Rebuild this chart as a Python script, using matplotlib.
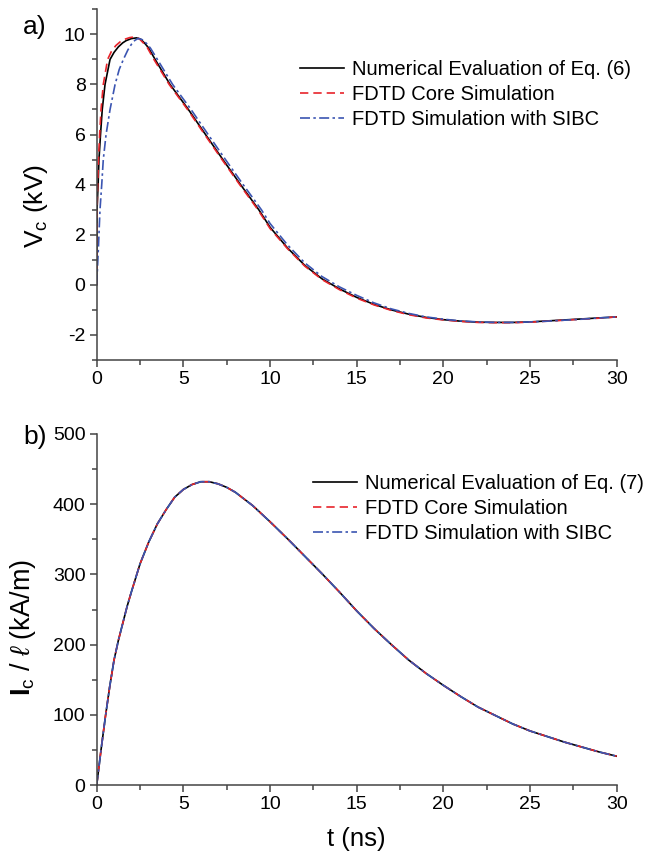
import matplotlib
matplotlib.use('Agg')
import matplotlib.pyplot as plt
from matplotlib.ticker import MultipleLocator

plt.rcParams['font.family'] = ['Liberation Sans', 'DejaVu Sans']
plt.rcParams['axes.unicode_minus'] = False
plt.rcParams['mathtext.fontset'] = 'custom'
plt.rcParams['mathtext.rm'] = 'Liberation Sans'
plt.rcParams['mathtext.bf'] = 'Liberation Sans:bold'
plt.rcParams['mathtext.it'] = 'Liberation Sans:italic'

# a) capacitor voltage (kV)
t_tail = [11, 12, 13, 14, 15, 16, 17, 18, 19, 20, 21, 22, 23, 24, 25, 26, 27, 28, 29, 30]

t_num = [0, 0.02, 0.08, 0.13, 0.22, 0.32, 0.48, 0.77, 1.0, 1.25, 1.5, 1.7, 2.0, 2.3, 2.55,
         2.79, 2.98, 3.37, 3.8, 4.23, 5.29, 6.28, 7.28, 8.3, 9.35, 10] + t_tail
v_num = [0, 3, 4, 5, 6, 7, 8, 9, 9.28, 9.5, 9.66, 9.75, 9.83, 9.86, 9.8, 9.63, 9.47, 9.0, 8.5,
         8.0, 7.0, 6.0, 5.0, 4.0, 3.0, 2.3, 1.48, 0.78, 0.24, -0.16, -0.5, -0.78, -1.0, -1.17,
         -1.3, -1.39, -1.45, -1.49, -1.5, -1.5, -1.48, -1.44, -1.4, -1.36, -1.32, -1.28]

t_core = [0, 0.02, 0.06, 0.1, 0.17, 0.25, 0.38, 0.63, 0.85, 1.1, 1.35, 1.6, 1.9, 2.2, 2.45,
          2.7, 2.92, 3.3, 3.74, 4.18, 5.24, 6.23, 7.23, 8.25, 9.3, 10] + t_tail
v_core = [0, 3, 4, 5, 6, 7, 8, 9, 9.32, 9.55, 9.7, 9.8, 9.87, 9.9, 9.83, 9.65, 9.47, 9.0, 8.5,
          8.0, 7.0, 6.0, 5.0, 4.0, 3.0, 2.25, 1.45, 0.75, 0.21, -0.19, -0.53, -0.8, -1.02,
          -1.19, -1.32, -1.4, -1.46, -1.5, -1.51, -1.51, -1.49, -1.45, -1.41, -1.37, -1.33,
          -1.28]

t_sibc = [0, 0.1, 0.19, 0.29, 0.38, 0.54, 0.77, 1.06, 1.3, 1.54, 1.8, 2.0, 2.2, 2.4, 2.65,
          2.9, 3.1, 3.5, 3.94, 4.38, 5.44, 6.43, 7.43, 8.45, 9.5, 10] + t_tail
v_sibc = [0, 1.5, 3, 4, 5, 6, 7, 8, 8.6, 9.0, 9.38, 9.6, 9.76, 9.84, 9.78, 9.62, 9.45, 9.0,
          8.5, 8.0, 7.0, 6.0, 5.0, 4.0, 3.0, 2.45, 1.6, 0.88, 0.33, -0.08, -0.42, -0.72, -0.96,
          -1.14, -1.28, -1.37, -1.44, -1.48, -1.5, -1.5, -1.48, -1.45, -1.41, -1.37, -1.32,
          -1.28]

# b) current per unit length (kA/m)
t_i = [0, 0.25, 0.5, 0.75, 1, 1.25, 1.5, 1.75, 2, 2.5, 3, 3.5, 4, 4.5, 5, 5.5, 6, 6.5, 7, 7.5,
       8, 9, 10, 11, 12, 13, 14, 15, 16, 17, 18, 19, 20, 21, 22, 23, 24, 25, 26, 27, 28, 29, 30]
i_num = [0, 50, 97, 140, 178, 206, 230, 254, 275, 315, 346, 372, 392, 410, 421, 428, 432, 432,
         429, 424, 417, 398, 375, 351, 326, 301, 275, 248, 223, 200, 178, 159, 142, 126, 111,
         99, 87, 77, 69, 61, 54, 47, 41]
i_core = list(i_num)
i_sibc = list(i_num)

red = '#e8242b'
blue = '#3b55b2'
dash = (0, (5, 3))
dashdot = (0, (6, 2, 1.5, 2))

fig = plt.figure(figsize=(6.72, 8.57), dpi=100)
ax1 = fig.add_axes([96.7 / 672, 1 - 360 / 857, 520 / 672, 350.7 / 857])
ax2 = fig.add_axes([96.7 / 672, 1 - 785 / 857, 520 / 672, 351 / 857])

ax1.plot(t_num, v_num, color='black', lw=1.2, label='Numerical Evaluation of Eq. (6)')
ax1.plot(t_core, v_core, color=red, lw=1.2, ls=dash, label='FDTD Core Simulation')
ax1.plot(t_sibc, v_sibc, color=blue, lw=1.2, ls=dashdot, label='FDTD Simulation with SIBC')

ax2.plot(t_i, i_num, color='black', lw=1.2, label='Numerical Evaluation of Eq. (7)')
ax2.plot(t_i, i_core, color=red, lw=1.2, ls=dash, label='FDTD Core Simulation')
ax2.plot(t_i, i_sibc, color=blue, lw=1.2, ls=dashdot, label='FDTD Simulation with SIBC')

ax1.set_xlim(0, 30)
ax1.set_ylim(-3, 11)
ax1.yaxis.set_major_locator(MultipleLocator(2))
ax1.yaxis.set_minor_locator(MultipleLocator(1))
ax2.set_xlim(0, 30)
ax2.set_ylim(0, 500)
ax2.yaxis.set_major_locator(MultipleLocator(100))
ax2.yaxis.set_minor_locator(MultipleLocator(50))

for ax in (ax1, ax2):
    ax.xaxis.set_major_locator(MultipleLocator(5))
    ax.xaxis.set_minor_locator(MultipleLocator(2.5))
    for s in ('top', 'right'):
        ax.spines[s].set_visible(False)
    for s in ('left', 'bottom'):
        ax.spines[s].set_color('#444444')
        ax.spines[s].set_linewidth(1.1)
    ax.tick_params(which='major', direction='out', length=5, width=1.1, color='#444444',
                   labelsize=14, pad=3)
    ax.tick_params(which='minor', direction='out', length=3.5, width=1.1, color='#444444')

ax1.set_ylabel(r'V$_\mathregular{c}$ (kV)', fontsize=19)
ax1.yaxis.set_label_coords(-0.09, 0.44)
ax2.set_ylabel(r'$\mathbf{I}_\mathregular{c}$ / $\ell$ (kA/m)', fontsize=19.5)
ax2.yaxis.set_label_coords(-0.113, 0.45)
ax2.set_xlabel('t (ns)', fontsize=18.5, labelpad=10)

fig.text(23 / 672, 1 - 27 / 857, 'a)', fontsize=19, va='center', ha='left')
fig.text(23 / 672, 1 - 437 / 857, 'b)', fontsize=19, va='center', ha='left')

leg_kw = dict(frameon=False, loc='upper left', fontsize=14.5, handlelength=2.2,
              handletextpad=0.36, labelspacing=0.3, borderpad=0, borderaxespad=0)
ax1.legend(bbox_to_anchor=(300 / 672, 1 - 60 / 857), bbox_transform=fig.transFigure, **leg_kw)
ax2.legend(bbox_to_anchor=(313 / 672, 1 - 474 / 857), bbox_transform=fig.transFigure, **leg_kw)

fig.savefig('out.png', dpi=100)
